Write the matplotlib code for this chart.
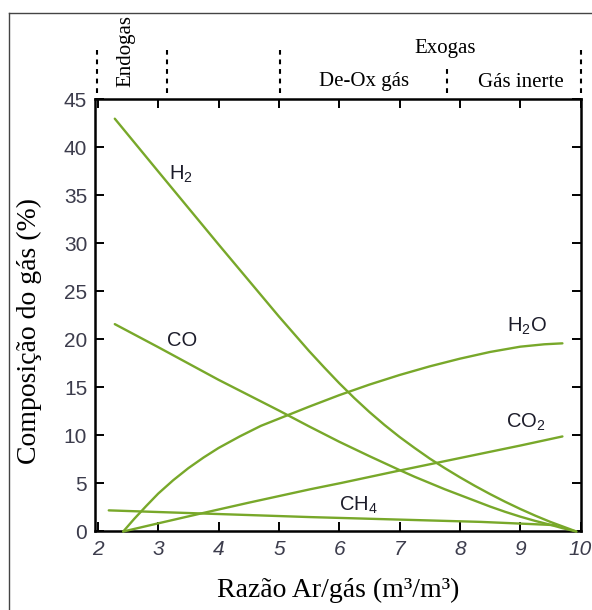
import matplotlib
matplotlib.use("Agg")
import matplotlib.pyplot as plt
from matplotlib.lines import Line2D

plt.rcParams['mathtext.fontset'] = 'custom'
plt.rcParams['mathtext.rm'] = 'Liberation Sans'
plt.rcParams['mathtext.it'] = 'Liberation Sans:italic'

# Gas composition (%) versus air/gas ratio
h2_x = [2.28, 3.0, 4.0, 5.0, 5.5, 5.75, 6.0, 6.25, 6.5, 6.75, 7.0, 7.25, 7.5, 7.75,
        8.0, 8.25, 8.5, 8.75, 9.0, 9.25, 9.5, 9.75, 9.93]
h2_y = [43.0, 37.5, 29.9, 22.4, 18.8, 17.1, 15.45, 13.9, 12.45, 11.1, 9.85, 8.7, 7.6, 6.6,
        5.65, 4.75, 3.9, 3.1, 2.35, 1.65, 1.0, 0.42, 0.0]

co_x = [2.28, 3.0, 4.0, 5.0, 5.5, 6.0, 6.5, 7.0, 7.25, 7.5, 7.75, 8.0, 8.25, 8.5,
        8.75, 9.0, 9.25, 9.5, 9.7, 9.93]
co_y = [21.6, 19.2, 15.8, 12.6, 10.95, 9.35, 7.85, 6.4, 5.7, 5.05, 4.4, 3.8, 3.2, 2.6,
        2.05, 1.55, 1.1, 0.7, 0.35, 0.0]

h2o_x = [2.42, 2.6, 2.8, 3.0, 3.25, 3.5, 3.75, 4.0, 4.35, 4.7, 5.1, 5.5, 6.0,
         6.5, 7.0, 7.5, 8.0, 8.5, 9.0, 9.4, 9.7]
h2o_y = [0.0, 1.3, 2.65, 3.95, 5.35, 6.6, 7.7, 8.7, 9.9, 11.0, 12.0, 13.0, 14.2,
         15.3, 16.3, 17.2, 18.0, 18.7, 19.25, 19.5, 19.6]

co2_x = [2.42, 3.0, 3.69, 4.5, 5.52, 6.03, 7.0, 8.0, 9.0, 9.7]
co2_y = [0.0, 0.85, 1.85, 3.0, 4.4, 5.05, 6.35, 7.65, 8.95, 9.9]

ch4_x = [2.18, 5.52, 8.35, 9.45, 9.6]
ch4_y = [2.2, 1.5, 1.0, 0.7, 0.65]

series = [(h2_x, h2_y), (co_x, co_y), (h2o_x, h2o_y), (co2_x, co2_y), (ch4_x, ch4_y)]

# curve labels: text, x, y
curve_labels = [
    (r'H$_2$', 3.38, 37.2),
    ('CO', 3.39, 19.9),
    (r'H$_2$O', 9.11, 21.4),
    (r'CO$_2$', 9.10, 11.4),
    (r'CH$_4$', 6.31, 2.76),
]

x_ticks = [2, 3, 4, 5, 6, 7, 8, 9, 10]
y_ticks = [0, 5, 10, 15, 20, 25, 30, 35, 40, 45]

# atmosphere regions above the plot
region_bounds = [1.98, 3.14, 5.02, 10.0]
subregion_bound = 7.78

GREEN = '#78a82a'
TICK_COLOR = '#3c3c4c'

fig = plt.figure(figsize=(5.92, 6.10), dpi=100)
ax = fig.add_axes([0.1613, 0.1287, 0.9806 - 0.1613, 0.8369 - 0.1287])

for xs, ys in series:
    ax.plot(xs, ys, color=GREEN, lw=1.7, solid_capstyle='round',
            solid_joinstyle='round', clip_on=False, zorder=3)

for txt, x, y in curve_labels:
    ax.text(x, y, txt, ha='center', va='center', fontsize=14.5,
            family='Liberation Sans', color='#1c1c2a')

ax.set_xlim(1.96, 10.0)
ax.set_ylim(0, 45)
ax.set_xticks(x_ticks)
ax.set_yticks(y_ticks)
ax.tick_params(direction='in', length=6.5, width=1.4, top=True, right=True,
               labelsize=15, colors='black', labelcolor=TICK_COLOR, pad=6)
for lab in ax.get_xticklabels():
    lab.set_family('Liberation Sans')
    lab.set_style('italic')
for lab in ax.get_yticklabels():
    lab.set_family('Liberation Sans')
for sp in ax.spines.values():
    sp.set_linewidth(1.8)

# axis titles
fig.text(338 / 592, 1 - 590 / 610, 'Razão Ar/gás (m³/m³)', ha='center', va='center',
         fontsize=20, family='Liberation Serif')
fig.text(29.5 / 592, 1 - 331 / 610, 'Composição do gás (%)', ha='center', va='center',
         rotation=90, fontsize=20, family='Liberation Serif')

# region markers above the axes
trans = ax.get_xaxis_transform()
for xb in region_bounds:
    ax.plot([xb, xb], [1.015, 1.115], transform=trans, color='black', lw=1.5,
            linestyle=(0, (2.3, 2.3)), clip_on=False)
ax.plot([subregion_bound, subregion_bound], [1.015, 1.071], transform=trans,
        color='black', lw=1.5, linestyle=(0, (2.3, 2.3)), clip_on=False)

ax.text(2.46, 1.112, 'Endogas', transform=trans, rotation=90, ha='center', va='center',
        fontsize=15, family='Liberation Serif')
ax.text(7.75, 1.1076, 'Exogas', transform=trans, ha='center', va='baseline',
        fontsize=15, family='Liberation Serif')
ax.text(6.42, 1.031, 'De-Ox gás', transform=trans, ha='center', va='baseline',
        fontsize=15, family='Liberation Serif')
ax.text(9.01, 1.030, 'Gás inerte', transform=trans, ha='center', va='baseline',
        fontsize=15, family='Liberation Serif')

# frame around the figure (left and top edges)
fx = 8.5 / 592
fy = 1 - 12.5 / 610
fig.add_artist(Line2D([fx, fx], [0, fy], color='#444444', lw=1.0))
fig.add_artist(Line2D([fx, 1], [fy, fy], color='#444444', lw=1.0))

fig.savefig('out.png', dpi=100)
